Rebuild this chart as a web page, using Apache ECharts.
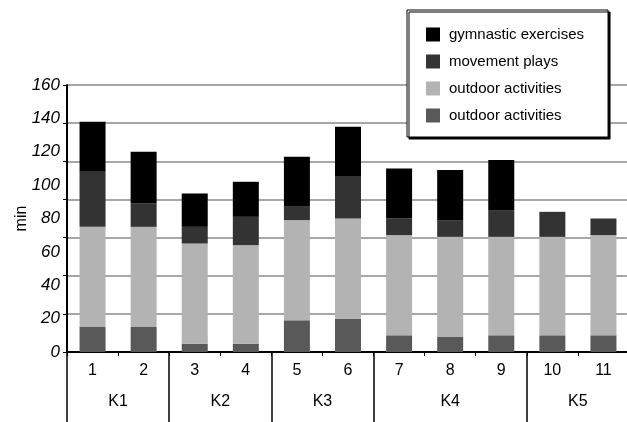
<!DOCTYPE html>
<html>
<head>
<meta charset="utf-8">
<script src="https://cdn.jsdelivr.net/npm/echarts@6/dist/echarts.min.js"></script>
<style>
  html, body { margin: 0; padding: 0; background: #fff; }
  #chart { width: 627px; height: 422px; }
</style>
</head>
<body>
<div id="chart"></div>
<script>
// Children (1–11) grouped by kindergarten (K1–K5)
const children = ['1', '2', '3', '4', '5', '6', '7', '8', '9', '10', '11'];
const groupNames = ['K1', 'K2', 'K3', 'K4', 'K5'];
const groupSizes = [2, 2, 2, 3, 2];

// Value-axis tick labels (minutes)
const yTicks = [0, 20, 40, 60, 80, 100, 120, 140, 160];
// Horizontal grid rows drawn behind the bars
const gridRows = 7;

// Minutes per activity, stacked bottom to top
const outdoorDark   = [15, 15, 5, 5, 19, 20, 10, 9, 10, 10, 10];
const outdoorLight  = [60, 60, 60, 59, 60, 60, 60, 60, 59, 59, 60];
const movementPlays = [33, 14, 10, 17, 8, 25, 10, 10, 16, 15, 10];
const gymnastic     = [30, 31, 20, 21, 30, 30, 30, 30, 30, 0, 0];

const FONT = "'Liberation Sans Narrow', 'Liberation Sans', Arial, sans-serif";

// Group boundaries and label centres on a 0..n scale
const bounds = [0];
groupSizes.forEach(s => bounds.push(bounds[bounds.length - 1] + s));
const centres = groupSizes.map((s, i) => bounds[i] + s / 2);

const chart = echarts.init(document.getElementById('chart'), null, { renderer: 'canvas' });

const barBase = { type: 'bar', stack: 'total', barWidth: 26, xAxisIndex: 0, yAxisIndex: 1 };

chart.setOption({
  animation: false,
  backgroundColor: '#fff',
  textStyle: { fontFamily: FONT },
  grid: { left: 67, top: 85, width: 562, height: 267, containLabel: false, outerBoundsMode: 'none' },
  legend: {
    orient: 'vertical',
    left: 407, top: 10,
    padding: [17, 24, 14, 19],
    itemWidth: 14, itemHeight: 14, itemGap: 12,
    icon: 'rect',
    backgroundColor: '#fff',
    borderColor: '#000', borderWidth: 1,
    shadowColor: '#000', shadowBlur: 0, shadowOffsetX: 2, shadowOffsetY: 2,
    textStyle: { fontFamily: FONT, fontSize: 15, color: '#000', padding: [0, 0, 0, 4] },
    data: ['gymnastic exercises', 'movement plays', 'outdoor activities', 'outdoor activities ']
  },
  xAxis: [
    {
      type: 'category',
      data: children,
      gridIndex: 0,
      position: 'bottom',
      axisLine: { show: true, lineStyle: { color: '#000', width: 2 } },
      axisTick: { show: true, length: 4, lineStyle: { color: '#000', width: 1 } },
      axisLabel: { fontFamily: FONT, fontSize: 16, color: '#000', margin: 11 },
      splitLine: { show: false }
    },
    {
      type: 'value',
      gridIndex: 0,
      position: 'bottom',
      min: 0, max: children.length,
      axisLine: { show: false },
      splitLine: { show: false },
      axisTick: { show: true, customValues: bounds, length: 72, lineStyle: { color: '#000', width: 1.5 } },
      axisLabel: {
        customValues: centres,
        fontFamily: FONT, fontSize: 16, color: '#000', margin: 42,
        formatter: v => groupNames[centres.indexOf(v)] || ''
      }
    }
  ],
  yAxis: [
    {
      type: 'value',
      min: 0, max: gridRows, interval: 1,
      axisLine: { show: true, lineStyle: { color: '#000', width: 2 } },
      axisTick: { show: true, length: 4, lineStyle: { color: '#000', width: 1 } },
      axisLabel: { show: false },
      splitLine: { show: true, lineStyle: { color: '#8a8a8a', width: 1.5 } }
    },
    {
      type: 'value',
      position: 'left',
      min: yTicks[0], max: yTicks[yTicks.length - 1], interval: yTicks[1] - yTicks[0],
      name: 'min',
      nameLocation: 'middle',
      nameRotate: 90,
      nameGap: 37,
      nameMoveOverlap: false,
      nameTextStyle: { fontFamily: FONT, fontSize: 16, color: '#000' },
      axisLine: { show: false },
      axisTick: { show: false },
      splitLine: { show: false },
      axisLabel: { fontFamily: FONT, fontSize: 17, fontStyle: 'italic', color: '#000', margin: 7 }
    }
  ],
  series: [
    Object.assign({}, barBase, { name: 'outdoor activities ', data: outdoorDark, itemStyle: { color: '#595959' } }),
    Object.assign({}, barBase, { name: 'outdoor activities', data: outdoorLight, itemStyle: { color: '#b3b3b3' } }),
    Object.assign({}, barBase, { name: 'movement plays', data: movementPlays, itemStyle: { color: '#333333' } }),
    Object.assign({}, barBase, { name: 'gymnastic exercises', data: gymnastic, itemStyle: { color: '#000000' } })
  ]
});
</script>
</body>
</html>
